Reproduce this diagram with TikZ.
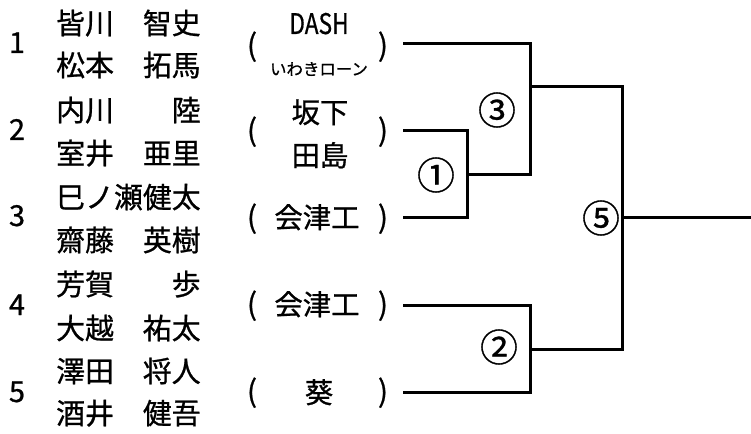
\documentclass[tikz,border=0pt]{standalone}
\usepackage{fontspec}
\setmainfont[FakeBold=0.8]{Noto Sans CJK JP}
\tikzset{
  base/.style={inner sep=0pt, text height=24bp, text depth=4bp},
  namebox/.style={base, anchor=west, font=\fontsize{29}{30}\selectfont},
  seedbox/.style={base, font=\fontsize{29}{30}\selectfont},
  teambox/.style={base, font=\fontsize{28.5}{30}\selectfont},
  smallbox/.style={inner sep=0pt, font=\fontsize{16.5}{18}\selectfont},
  parbox/.style={base, font=\fontsize{30}{30}\selectfont},
  roundlbl/.style={inner sep=0pt, font=\fontsize{38}{40}\selectfont},
  bracket/.style={line width=3bp, line cap=rect, line join=miter},
}
\begin{document}
\begin{tikzpicture}[x=1bp,y=-1bp]
\useasboundingbox (0,0) rectangle (751,434);
\fill[white] (0,0) rectangle (751,434);
% seeds
\node[seedbox] (n1) at (17,43) {1};
\node[seedbox] (n2) at (17,130) {2};
\node[seedbox] (n3) at (17,216) {3};
\node[seedbox] (n4) at (17,305) {4};
\node[seedbox] (n5) at (17,392) {5};
% names
\node[namebox] (a1) at (56,24) {皆川　智史};
\node[namebox] (b1) at (56,66) {松本　拓馬};
\node[namebox] (a2) at (56,111) {内川　　陸};
\node[namebox] (b2) at (56,154) {室井　亜里};
\node[namebox] (a3) at (56,198) {巳ノ瀬健太};
\node[namebox] (b3) at (56,241) {齋藤　英樹};
\node[namebox] (a4) at (56,285) {芳賀　　歩};
\node[namebox] (b4) at (56,329) {大越　祐太};
\node[namebox] (a5) at (56,372) {澤田　将人};
\node[namebox] (b5) at (56,414) {酒井　健吾};
% teams
\node[parbox] (l1) at (252,46) {(};
\node[parbox] (r1) at (383,46) {)};
\node[teambox] (t1a) at (319,24) {\scalebox{0.8}[1]{DASH}};
\node[smallbox] (t1b) at (319,69) {いわきローン};
\node[parbox] (l2) at (252,131) {(};
\node[parbox] (r2) at (383,131) {)};
\node[teambox] (t2a) at (320,113) {坂下};
\node[teambox] (t2b) at (320,156) {田島};
\node[parbox] (l3) at (252,218) {(};
\node[parbox] (r3) at (383,218) {)};
\node[teambox] (t3) at (317,218) {会津工};
\node[parbox] (l4) at (252,305) {(};
\node[parbox] (r4) at (383,305) {)};
\node[teambox] (t4) at (317,305) {会津工};
\node[parbox] (l5) at (252,392) {(};
\node[parbox] (r5) at (383,392) {)};
\node[teambox] (t5) at (319,393) {葵};
% bracket coordinates
\coordinate (s1) at (404,44);
\coordinate (s2) at (404,131);
\coordinate (s3) at (404,218);
\coordinate (s4) at (404,306);
\coordinate (s5) at (404,392);
\coordinate (j1) at (467,175);
\coordinate (j2) at (530,349);
\coordinate (j3) at (530,87);
\coordinate (j5) at (622,218);
\coordinate (fin) at (751,218);
% brackets
\draw[bracket] (s2) -| (j1) |- (s3);
\draw[bracket] (s1) -| (530,175) -- (j1);
\draw[bracket] (s4) -| (j2) |- (s5);
\draw[bracket] (j3) -| (j5) |- (j2);
\draw[bracket] (j5) -- (fin);
% round labels
\node[roundlbl] (m1) at (436,175) {①};
\node[roundlbl] (m3) at (497,110) {③};
\node[roundlbl] (m2) at (499,347) {②};
\node[roundlbl] (m5) at (601,218) {⑤};
\end{tikzpicture}
\end{document}
